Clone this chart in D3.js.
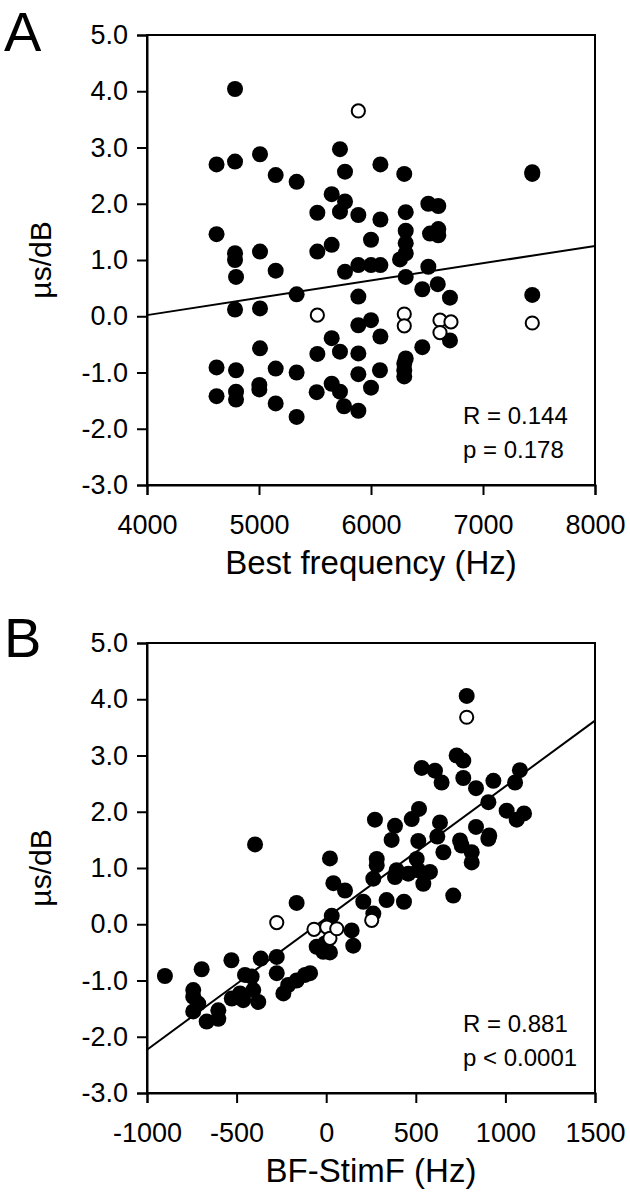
<!DOCTYPE html>
<html>
<head>
<meta charset="utf-8">
<script src="https://cdn.jsdelivr.net/npm/d3@7"></script>
<style>
  html, body { margin: 0; padding: 0; background: #fff; }
  svg { display: block; }
  text { font-family: "Liberation Sans", Arial, Helvetica, sans-serif; fill: #000; }
</style>
</head>
<body>
<svg id="chart" width="630" height="1200"></svg>
<script>
// ---------- Panel A data: best frequency (Hz) vs slope (µs/dB) ----------
const aFilledBF = [4786,4621,4786,5009,5149,5336,5723,5768,6084,6297,5649,5768,5723,5521,5887,6084,6310,6512,6601,
  4621,4786,4786,5009,5149,4795,5336,4786,5009,5009,5521,5649,6000,6310,6310,6310,6259,6527,6601,6601,
  5768,5887,6000,6084,6310,6512,5887,6458,6596,6705,5887,6000,6705,5649,6084,6458,5521,5723,5887,6310,
  4621,4795,5149,5336,5887,6080,6297,6297,6297,4621,4795,4795,5003,5003,5149,5336,5515,5649,5723,5759,5887,6000,
  7440,7440,7440];
const aFilledSlope = [4.04,2.70,2.75,2.88,2.51,2.39,2.97,2.57,2.70,2.53,2.17,2.04,1.86,1.84,1.80,1.72,1.85,2.00,1.96,
  1.46,1.12,1.00,1.15,0.81,0.70,0.39,0.12,0.14,-0.57,1.15,1.27,1.36,1.52,1.30,1.12,1.01,1.47,1.44,1.55,
  0.79,0.91,0.91,0.91,0.70,0.88,0.35,0.48,0.57,0.33,-0.16,-0.07,-0.43,-0.39,-0.36,-0.55,-0.67,-0.63,-0.66,-0.75,
  -0.91,-0.96,-0.93,-1.00,-1.03,-0.96,-0.84,-0.96,-1.07,-1.42,-1.34,-1.48,-1.22,-1.30,-1.55,-1.79,-1.35,-1.20,-1.34,-1.60,-1.68,-1.27,
  2.53,2.56,0.38];
const aOpenBF = [5887,5521,6297,6297,6616,6714,6616,7440];
const aOpenSlope = [3.65,0.02,0.04,-0.17,-0.07,-0.10,-0.29,-0.12];
const aFitBF = [4000,8000];
const aFitSlope = [0.02,1.25];
const aXTicks = [4000,5000,6000,7000,8000];
const aStats = ["R = 0.144","p = 0.178"];

// ---------- Panel B data: BF-StimF (Hz) vs slope (µs/dB) ----------
const bFilledDF = [784,728,765,533,607,644,765,933,836,1081,1054,905,1007,1104,1063,272,384,518,477,635,836,910,365,514,620,747,
  -397,21,40,-165,31,-53,-16,-529,-365,-276,
  -900,-695,-276,-453,-416,-742,-742,-714,-742,-667,-602,-602,-527,-481,-463,-407,-379,-239,-212,-165,-118,-90,-7,21,151,
  654,756,812,812,905,282,282,505,393,384,458,514,579,542,263,105,207,337,434,709,263,142];
const bFilledSlope = [4.06,3.00,2.91,2.78,2.73,2.52,2.60,2.55,2.42,2.74,2.52,2.17,2.02,1.97,1.86,1.86,1.75,2.05,1.87,1.81,1.73,1.58,1.50,1.48,1.56,1.49,
  1.42,1.17,0.73,0.38,0.15,-0.40,-0.49,-0.64,-0.61,-0.58,
  -0.92,-0.80,-0.87,-0.90,-0.93,-1.17,-1.29,-1.41,-1.55,-1.73,-1.68,-1.53,-1.32,-1.23,-1.35,-1.17,-1.38,-1.23,-1.08,-1.00,-0.90,-0.87,-0.34,-0.50,-0.38,
  1.28,1.40,1.28,1.10,1.52,1.16,1.05,1.16,0.96,0.84,0.90,0.96,0.93,0.72,0.81,0.60,0.40,0.43,0.40,0.51,0.19,-0.11];
const bOpenDF = [784,-276,-68,3,21,59,254];
const bOpenSlope = [3.68,0.03,-0.09,-0.05,-0.25,-0.08,0.07];
const bFitDF = [-1000,1500];
const bFitSlope = [-2.23,3.62];
const bXTicks = [-1000,-500,0,500,1000,1500];
const bStats = ["R = 0.881","p < 0.0001"];

const yTicks = [-3,-2,-1,0,1,2,3,4,5];

const svg = d3.select("#chart");

function panel(opt) {
  const g = svg.append("g");
  const x = d3.scaleLinear().domain(opt.xDomain).range([147, 595]);
  const y = d3.scaleLinear().domain([-3, 5]).range([opt.bottom, opt.bottom - 450]);

  // frame
  g.append("rect")
    .attr("x", x.range()[0]).attr("y", y.range()[1])
    .attr("width", x.range()[1] - x.range()[0])
    .attr("height", y.range()[0] - y.range()[1])
    .attr("fill", "none").attr("stroke", "#000").attr("stroke-width", 2);

  // axes (plain hyphen for negatives, as in the reference)
  const ya = g.append("g").attr("transform", `translate(${x.range()[0]},0)`)
    .call(d3.axisLeft(y).tickValues(yTicks).tickFormat(d => d.toFixed(1)).tickSize(10).tickPadding(9));
  const xa = g.append("g").attr("transform", `translate(0,${y.range()[0]})`)
    .call(d3.axisBottom(x).tickValues(opt.xTicks).tickFormat(d => String(d)).tickSize(10).tickPadding(20));
  [ya, xa].forEach(a => {
    a.select(".domain").attr("stroke-width", 2);
    a.selectAll(".tick line").attr("stroke-width", 2);
    a.selectAll(".tick text").attr("font-size", 27).attr("font-family", "Liberation Sans, Arial, sans-serif");
  });

  // regression line
  g.append("line")
    .attr("x1", x(opt.fitX[0])).attr("y1", y(opt.fitY[0]))
    .attr("x2", x(opt.fitX[1])).attr("y2", y(opt.fitY[1]))
    .attr("stroke", "#000").attr("stroke-width", 2);

  // filled points
  g.append("g").selectAll("circle").data(d3.range(opt.fx.length)).join("circle")
    .attr("cx", i => x(opt.fx[i])).attr("cy", i => y(opt.fy[i]))
    .attr("r", 8).attr("fill", "#000");
  // open points
  g.append("g").selectAll("circle").data(d3.range(opt.ox.length)).join("circle")
    .attr("cx", i => x(opt.ox[i])).attr("cy", i => y(opt.oy[i]))
    .attr("r", 6.6).attr("fill", "#fff").attr("stroke", "#000").attr("stroke-width", 2);

  // stats
  opt.stats.forEach((s, i) => {
    g.append("text").attr("x", 463).attr("y", y.range()[0] - 61 + i * 34)
      .attr("font-size", 24).text(s);
  });

  // axis titles
  g.append("text").attr("x", (x.range()[0] + x.range()[1]) / 2).attr("y", y.range()[0] + 89)
    .attr("text-anchor", "middle").attr("font-size", 33).text(opt.xTitle);
  g.append("text")
    .attr("transform", `translate(51,${(y.range()[0] + y.range()[1]) / 2}) rotate(-90)`)
    .attr("text-anchor", "middle").attr("font-size", 30).text("µs/dB");

  // panel letter
  g.append("text").attr("x", 4).attr("y", y.range()[1] + opt.letterDy)
    .attr("font-size", 56).text(opt.letter);
}

panel({ xDomain: [4000, 8000], bottom: 485, xTicks: aXTicks, fitX: aFitBF, fitY: aFitSlope,
  fx: aFilledBF, fy: aFilledSlope, ox: aOpenBF, oy: aOpenSlope, stats: aStats,
  xTitle: "Best frequency (Hz)", letter: "A", letterDy: 16 });
panel({ xDomain: [-1000, 1500], bottom: 1093, xTicks: bXTicks, fitX: bFitDF, fitY: bFitSlope,
  fx: bFilledDF, fy: bFilledSlope, ox: bOpenDF, oy: bOpenSlope, stats: bStats,
  xTitle: "BF-StimF (Hz)", letter: "B", letterDy: 14 });
</script>
</body>
</html>
